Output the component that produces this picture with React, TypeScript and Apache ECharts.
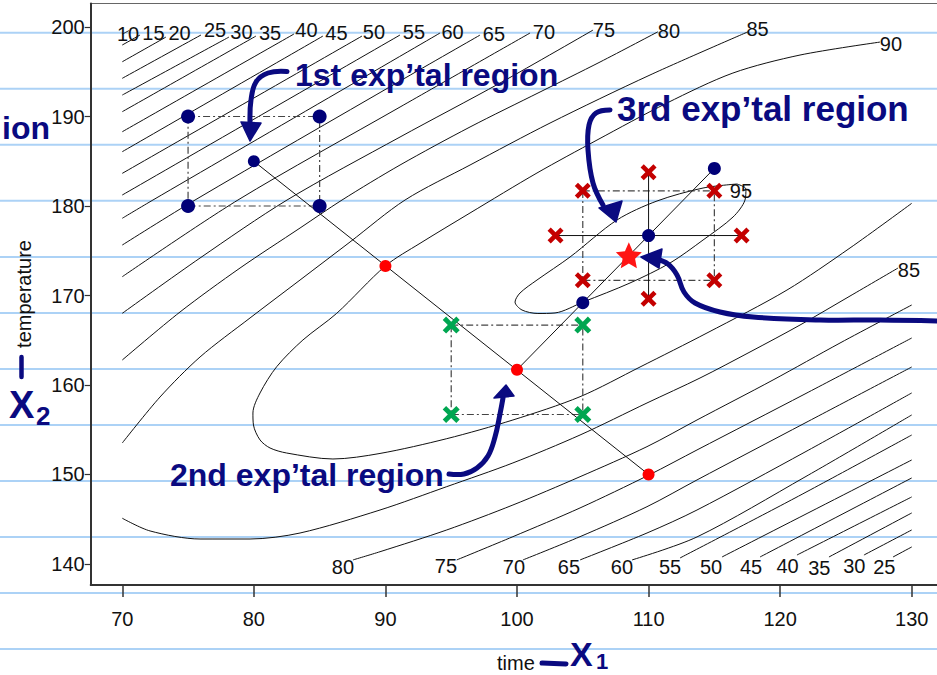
import React, { useEffect, useRef } from "react";
import * as echarts from "echarts";

const xTicks = [70, 80, 90, 100, 110, 120, 130];
const yTicks = [140, 150, 160, 170, 180, 190, 200];

// contour lines (time, temperature)
const c10 = [[70.0, 199.2], [70.5, 199.6]];
const c15 = [[70.0, 197.99], [71.35, 199.11]];
const c20 = [[70.0, 196.12], [73.32, 198.88]];
const c25 = [[70.0, 194.27], [75.98, 199.11]];
const c30 = [[70.0, 192.4], [78.11, 198.88]];
const c35 = [[70.0, 190.54], [80.16, 198.99]];
const c40 = [[70.0, 188.3], [83.05, 199.22]];
const c45 = [[70.0, 186.07], [85.25, 198.99]];
const c50 = [[70.0, 183.65], [88.22, 198.99]];
const c55 = [[70.0, 181.23], [91.11, 199.11]];
const c60 = [[70.0, 178.63], [72.33, 180.67], [94.15, 199.33]];
const c65 = [[70.0, 175.64], [75.53, 180.67], [91.11, 193.97], [97.19, 199.1]];
const c70 = [[70.0, 172.1], [78.79, 180.67], [91.11, 191.06], [100.99, 199.33]];
const c75 = [[70.0, 168.01], [75.91, 174.19], [82.52, 180.67], [91.11, 187.71], [98.71, 193.74], [105.78, 199.66]];
const c80Upper = [[70.0, 162.79], [74.39, 168.16], [78.95, 173.07], [83.51, 177.54], [86.7, 180.67], [91.11, 184.58], [96.43, 188.83], [101.75, 192.74], [106.31, 196.09], [110.71, 199.47]];
const c85Upper = [[70.0, 153.52], [72.87, 158.66], [75.91, 163.13], [79.71, 167.49], [83.51, 171.73], [87.31, 175.98], [91.49, 180.67], [96.43, 184.58], [102.51, 189.27], [110.11, 194.64], [117.56, 199.47]];
const c85Lower = [[70.0, 145.11], [72.11, 143.69], [75.91, 142.79], [79.71, 142.79], [83.51, 143.46], [89.59, 146.03], [94.66, 148.64], [99.69, 151.29], [104.79, 154.41], [109.88, 157.99], [113.91, 160.78], [117.71, 163.69], [121.51, 166.7], [125.31, 169.94], [128.96, 173.07]];
const c90 = [[127.59, 198.32], [121.51, 196.87], [116.41, 194.86], [111.4, 191.51], [106.08, 187.37], [101.52, 183.69], [96.43, 179.22], [92.63, 175.83], [90.02, 173.33], [86.3, 168.01], [83.73, 165.03], [81.74, 162.05], [80.47, 159.11], [79.93, 156.87], [79.97, 155.53], [80.47, 153.86], [81.23, 152.96], [82.49, 152.4], [86.01, 151.73], [89.59, 152.35], [94.66, 154.0], [99.69, 156.09], [104.79, 158.69], [109.35, 162.01], [114.44, 165.81], [120.52, 170.61], [125.31, 175.31], [130.0, 180.3]];
const c95 = [[116.72, 182.46], [114.14, 182.01], [110.64, 180.56], [107.6, 178.44], [104.03, 174.3], [101.52, 171.73], [100.23, 170.28], [99.85, 169.27], [100.38, 168.38], [101.59, 167.99], [102.89, 168.05], [105.02, 169.27], [108.59, 171.4], [111.63, 173.63], [114.14, 176.2], [116.42, 178.77], [117.33, 180.67], [117.4, 181.9], [116.72, 182.46]];
const c80Lower = [[87.53, 140.45], [89.59, 141.37], [94.66, 143.8], [99.69, 146.59], [104.79, 149.75], [109.88, 153.11], [113.68, 156.09], [119.46, 160.56], [124.55, 164.69], [130.0, 168.94]];
const c75Lower = [[95.42, 140.45], [99.69, 143.05], [104.79, 146.26], [110.03, 149.94], [113.68, 152.74], [121.89, 159.0], [130.0, 165.25]];
const c70Lower = [[100.45, 140.45], [104.79, 143.05], [109.88, 146.4], [113.68, 149.39], [121.89, 155.75], [130.0, 162.01]];
const c65Lower = [[104.79, 140.45], [109.88, 143.46], [113.68, 146.03], [121.89, 152.51], [130.0, 159.11]];
const c60Lower = [[108.74, 140.45], [113.68, 143.02], [121.89, 149.72], [130.0, 156.65]];
const c55Lower = [[112.39, 140.67], [121.13, 147.37], [130.0, 154.41]];
const c50Lower = [[115.58, 140.78], [130.0, 151.62]];
const c45Lower = [[118.47, 140.78], [130.0, 149.61]];
const c40Lower = [[121.28, 141.0], [130.0, 147.49]];
const c35Lower = [[123.71, 140.78], [130.0, 145.7]];
const c30Lower = [[126.37, 141.0], [130.0, 143.8]];
const c25Lower = [[128.58, 140.78], [130.0, 141.9]];

const contourLines = [
  c10, c15, c20, c25, c30, c35, c40, c45, c50, c55, c60, c65, c70, c75, c80Upper, c85Upper,
  c85Lower, c90, c95, c80Lower, c75Lower, c70Lower, c65Lower, c60Lower, c55Lower, c50Lower,
  c45Lower, c40Lower, c35Lower, c30Lower, c25Lower,
];

// contour level labels
const labelTexts = ["10", "15", "20", "25", "30", "35", "40", "45", "50", "55", "60", "65", "70", "75", "80", "85", "90", "95", "85", "80", "75", "70", "65", "60", "55", "50", "45", "40", "35", "30", "25"];
const labelPoints = [
  [70.44, 199.27], [72.37, 199.3], [74.35, 199.3], [77.05, 199.66], [79.06, 199.47], [81.23, 199.3], [84.0, 199.66], [86.28, 199.3], [89.13, 199.47], [92.17, 199.47], [95.1, 199.47], [98.25, 199.22], [102.05, 199.39], [106.61, 199.66], [111.55, 199.55], [118.28, 199.78], [128.42, 198.1], [117.02, 181.68], [129.79, 172.85],
  [86.77, 139.67], [94.6, 139.78], [99.77, 139.67], [103.95, 139.67], [107.98, 139.67], [111.63, 139.67], [114.75, 139.67], [117.79, 139.67], [120.56, 139.78], [122.98, 139.55], [125.64, 139.78], [127.92, 139.67],
];

// experimental points
const region1Corners = [[75, 190], [85, 190], [75, 180], [85, 180]];
const region1Center = [[80, 185]];
const region1Box = [[75, 190], [85, 190], [85, 180], [75, 180], [75, 190]];
const ascentPath1 = [[80, 185], [110, 150]];
const ascentPoints1 = [[90, 173.3], [100, 161.7], [110, 150]];
const region2Corners = [[95, 166.7], [105, 166.7], [95, 156.7], [105, 156.7]];
const region2Box = [[95, 166.7], [105, 166.7], [105, 156.7], [95, 156.7], [95, 166.7]];
const ascentPath2 = [[100, 161.7], [115, 184.2]];
const ascentPoints2 = [[105, 169.2], [110, 176.7], [115, 184.2]];
const region3Corners = [[105, 181.7], [115, 181.7], [105, 171.7], [115, 171.7]];
const region3Axial = [[102.93, 176.7], [117.07, 176.7], [110, 183.77], [110, 169.63]];
const region3Box = [[105, 181.7], [115, 181.7], [115, 171.7], [105, 171.7], [105, 181.7]];
const axialH = [[102.93, 176.7], [117.07, 176.7]];
const axialV = [[110, 169.63], [110, 183.77]];
const optimum = [[108.5, 174.5]];

const NAVY = "#0a0a80";
const FONT = "'Liberation Sans', Arial, sans-serif";
const X_PATH = "path://M0,4 L4,0 L10,6 L16,0 L20,4 L14,10 L20,16 L16,20 L10,14 L4,20 L0,16 L6,10 Z";
const STAR_PATH = "path://M10,0 L13,6.8 L20,7.6 L14.8,12.4 L16.2,19.6 L10,16 L3.8,19.6 L5.2,12.4 L0,7.6 L7,6.8 Z";

export default function App() {
  const ref = useRef<HTMLDivElement>(null);
  useEffect(() => {
    if (!ref.current) return;
    const chart = echarts.init(ref.current, undefined, { renderer: "svg" });

    const contourSeries = contourLines.map((d) => ({
      type: "line",
      data: d,
      symbol: "none",
      smooth: 0.3,
      silent: true,
      clip: true,
      z: 2,
      lineStyle: { color: "#111", width: 1 },
    }));

    const pathLine = (d: number[][], dashed: boolean) => ({
      type: "line",
      data: d,
      symbol: "none",
      silent: true,
      z: 3,
      lineStyle: dashed
        ? { color: "#444", width: 1.2, type: [7, 3, 2, 3] }
        : { color: "#111", width: 1 },
    });

    const markers = (d: number[][], symbol: string, size: number, color: string) => ({
      type: "scatter",
      data: d,
      symbol,
      symbolSize: size,
      silent: true,
      z: 6,
      itemStyle: { color, opacity: 1 },
    });

    const paperLines = [] as any[];
    for (let k = 0; k < 12; k++) {
      const y = 32.8 + 56.02 * k;
      paperLines.push({
        type: "line",
        z: -1,
        silent: true,
        shape: { x1: 0, y1: y, x2: 1000, y2: y },
        style: { stroke: "#acd2f6", lineWidth: 2 },
      });
    }

    const hand = (text: string, x: number, y: number, size: number, align = "left") => ({
      type: "text",
      x,
      y,
      z: 100,
      silent: true,
      style: { text, fontSize: size, fontWeight: "bold", fontFamily: FONT, fill: NAVY, align, verticalAlign: "middle" },
    });
    const stroke = (points: number[][], w: number) => ({
      type: "polyline",
      z: 100,
      silent: true,
      shape: { points, smooth: 0.4 },
      style: { stroke: NAVY, lineWidth: w, fill: null, lineCap: "round", lineJoin: "round" },
    });
    const head = (points: number[][]) => ({
      type: "polygon",
      z: 100,
      silent: true,
      shape: { points },
      style: { fill: NAVY, stroke: NAVY, lineWidth: 1.5, lineJoin: "round" },
    });

    chart.setOption({
      animation: false,
      backgroundColor: "transparent",
      grid: {
        left: 90.7,
        top: 3.5,
        right: 22.5,
        bottom: 90,
        show: true,
        borderColor: "#666",
        borderWidth: 1.2,
        backgroundColor: "transparent",
        containLabel: false,
        outerBoundsMode: "none",
      },
      xAxis: {
        type: "value",
        min: 67.6,
        max: 135,
        axisLine: { show: true, onZero: false, lineStyle: { color: "#333", width: 2 } },
        axisTick: { show: true, length: 12, customValues: xTicks, lineStyle: { color: "#333", width: 1.5 } },
        axisLabel: { customValues: xTicks, fontSize: 20, color: "#111", margin: 24, fontFamily: FONT },
        splitLine: { show: false },
      },
      yAxis: {
        type: "value",
        min: 137.65,
        max: 202.63,
        axisLine: { show: true, onZero: false, lineStyle: { color: "#333", width: 2 } },
        axisTick: { show: true, length: 6, customValues: yTicks, lineStyle: { color: "#333", width: 1.2 } },
        axisLabel: { customValues: yTicks, fontSize: 20, color: "#111", margin: 6, fontFamily: FONT, padding: [6, 0, 0, 0] },
        splitLine: { show: false },
      },
      series: [
        ...contourSeries,
        {
          type: "scatter",
          data: labelPoints.map((p, i) => ({ name: labelTexts[i], value: p })),
          symbolSize: 1,
          silent: true,
          z: 4,
          itemStyle: { color: "rgba(0,0,0,0)", opacity: 1 },
          label: { show: true, position: "inside", formatter: "{b}", color: "#111", opacity: 1, textBorderWidth: 0, fontSize: 20, fontFamily: FONT },
        },
        pathLine(region1Box, true),
        pathLine(region2Box, true),
        pathLine(region3Box, true),
        pathLine(ascentPath1, false),
        pathLine(ascentPath2, false),
        pathLine(axialH, false),
        pathLine(axialV, false),
        markers(region1Corners, "circle", 14, "#000078"),
        markers(region1Center, "circle", 12, "#000078"),
        markers(ascentPoints2, "circle", 13, "#000078"),
        markers(ascentPoints1, "circle", 12, "#ff0000"),
        markers(region2Corners, X_PATH, 17, "#00a651"),
        markers(region3Corners, X_PATH, 16, "#c40000"),
        markers(region3Axial, X_PATH, 16, "#c40000"),
        markers(optimum, STAR_PATH, 26, "#ff1414"),
      ],
      graphic: [
        ...paperLines,
        {
          type: "text",
          x: 24,
          y: 294,
          rotation: Math.PI / 2,
          z: 50,
          silent: true,
          style: { text: "temperature", fontSize: 20, fontFamily: FONT, fill: "#111", align: "center", verticalAlign: "middle" },
        },
        {
          type: "text",
          x: 497,
          y: 663,
          z: 50,
          silent: true,
          style: { text: "time", fontSize: 20, fontFamily: FONT, fill: "#111", align: "left", verticalAlign: "middle" },
        },
        hand("1st exp\u2019tal region", 295, 75, 32),
        hand("3rd exp\u2019tal region", 617, 108, 35),
        hand("2nd exp\u2019tal region", 170, 475, 32),
        hand("ion", 2, 128, 32),
        hand("X", 9, 405, 38),
        hand("2", 36, 416, 26),
        hand("X", 570, 654, 34),
        hand("1", 596, 661, 22),
        {
          type: "line",
          z: 100,
          silent: true,
          shape: { x1: 21.5, y1: 357, x2: 21.5, y2: 377 },
          style: { stroke: NAVY, lineWidth: 4.5, lineCap: "round" },
        },
        {
          type: "line",
          z: 100,
          silent: true,
          shape: { x1: 542, y1: 663, x2: 566, y2: 664 },
          style: { stroke: NAVY, lineWidth: 5, lineCap: "round" },
        },
        stroke([[287, 71.5], [268, 73], [256, 82], [251, 100], [250, 122]], 5),
        head([[241, 122], [261, 123], [250, 141]]),
        stroke([[610, 110], [596, 113], [589, 125], [588, 150], [593, 183], [603, 205]], 5),
        head([[599, 208], [622, 201], [616, 222]]),
        stroke([[940, 321], [880, 320], [820, 320], [753, 317], [720, 312], [695, 303], [684, 292], [677, 275], [668, 264], [656, 259]], 5),
        head([[641, 257], [662, 249], [659, 268]]),
        stroke([[449, 474], [464, 474], [477, 468], [488, 456], [495, 437], [500, 414], [503, 398]], 5),
        head([[494, 398], [514, 396], [506, 385]]),
      ],
    });

    return () => chart.dispose();
  }, []);

  return (
    <div style={{ position: "fixed", left: 0, top: 0, width: 937, height: 675, overflow: "hidden", background: "#fff" }}>
      <div ref={ref} style={{ width: 1000, height: 675 }} />
    </div>
  );
}
